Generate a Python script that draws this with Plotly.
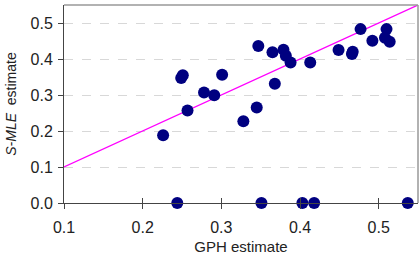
import plotly.graph_objects as go

gph = [0.226, 0.244, 0.249, 0.251, 0.257, 0.278, 0.291, 0.301, 0.328, 0.345,
       0.347, 0.351, 0.365, 0.368, 0.379, 0.382, 0.388, 0.403, 0.413, 0.418,
       0.449, 0.466, 0.467, 0.477, 0.492, 0.510, 0.508, 0.514, 0.537]
smle = [0.188, 0.0, 0.347, 0.355, 0.257, 0.307, 0.299, 0.356, 0.227, 0.265,
        0.436, 0.0, 0.419, 0.331, 0.426, 0.409, 0.390, 0.0, 0.390, 0.0,
        0.425, 0.414, 0.420, 0.483, 0.451, 0.483, 0.459, 0.448, 0.0]
line_x = [0.1, 0.55]
line_y = [0.1, 0.55]

fig = go.Figure()
fig.add_trace(go.Scatter(x=line_x, y=line_y, mode="lines",
                         line=dict(color="#ff00ff", width=1.3), showlegend=False,
                         hoverinfo="skip"))
fig.add_trace(go.Scatter(x=gph, y=smle, mode="markers",
                         marker=dict(color="#000080", size=12),
                         showlegend=False, cliponaxis=False))
# overlay axis for inward tick halves
fig.add_trace(go.Scatter(x=[None], y=[None], xaxis="x2", showlegend=False))

font = "Liberation Sans, Arial, sans-serif"
fig.update_layout(
    width=419, height=259,
    margin=dict(l=64, r=1, t=5, b=56),
    paper_bgcolor="white", plot_bgcolor="white",
    font=dict(family=font, size=16, color="#222"),
    xaxis=dict(range=[0.1, 0.55], tickvals=[0.1, 0.2, 0.3, 0.4, 0.5],
               ticktext=["0.1", "0.2", "0.3", "0.4", "0.5"],
               showgrid=False, zeroline=False, showline=True,
               linecolor="#444", linewidth=1, ticks="outside", ticklen=5,
               tickcolor="#444", tickfont=dict(size=16), ticklabelstandoff=5,
               title=dict(text="GPH estimate", font=dict(size=15), standoff=6)),
    xaxis2=dict(range=[0.1, 0.55], overlaying="x", side="bottom",
                tickvals=[0.1, 0.2, 0.3, 0.4, 0.5], showticklabels=False,
                ticks="inside", ticklen=5, tickcolor="#444",
                showgrid=False, zeroline=False, showline=False),
    yaxis=dict(range=[0, 0.55], tickvals=[0, 0.1, 0.2, 0.3, 0.4, 0.5],
               ticktext=["0.0", "0.1", "0.2", "0.3", "0.4", "0.5"],
               showgrid=True, gridcolor="#d8d8d8", griddash="dash", gridwidth=1,
               zeroline=False, showline=True, linecolor="#444", linewidth=1,
               ticks="outside", ticklen=5, tickcolor="#444", tickfont=dict(size=16),
               ticklabelstandoff=2,
               title=dict(text="<i>S-MLE</i>  estimate", font=dict(size=14), standoff=10)),
    shapes=[
        dict(type="line", xref="paper", yref="paper", x0=0, x1=1, y0=1, y1=1,
             line=dict(color="#999", width=1.5)),
        dict(type="line", xref="paper", yref="paper", x0=1, x1=1, y0=0, y1=1,
             line=dict(color="#999", width=1.5)),
    ],
)
fig.write_html("out.html")
